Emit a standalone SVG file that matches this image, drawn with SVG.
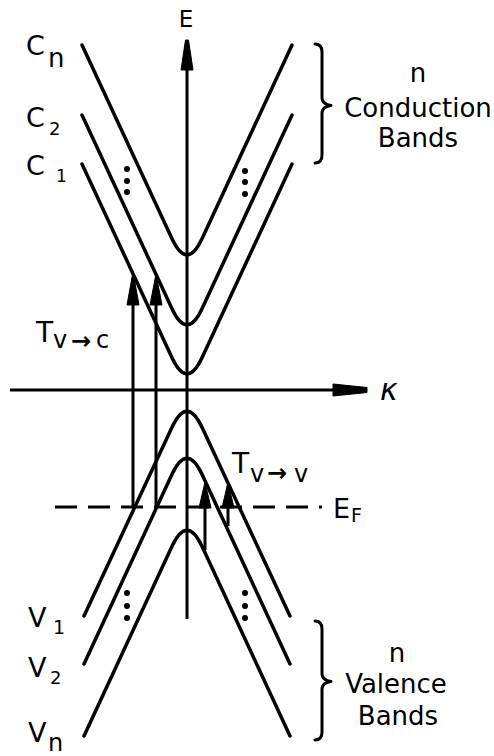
<svg xmlns="http://www.w3.org/2000/svg" width="494" height="756" viewBox="0 0 494 756">
<style>
.band{fill:none;stroke:#000;stroke-width:3.5;stroke-linecap:round;stroke-linejoin:round}
.axis{fill:none;stroke:#000;stroke-width:3}
.arr{fill:none;stroke:#000;stroke-width:3}
.head{fill:#000;stroke:#000;stroke-width:1;stroke-linejoin:round}
.brace{fill:none;stroke:#000;stroke-width:3;stroke-linecap:round;stroke-linejoin:round}
.dash{fill:none;stroke:#000;stroke-width:3;stroke-dasharray:22 11}
.dot{fill:#000}
text{font-family:"DejaVu Sans","Liberation Sans",sans-serif;fill:#000}
</style>
<rect width="494" height="756" fill="#fff"/>
<g id="axes">
<line class="axis" x1="187" y1="66" x2="187" y2="619"/>
<polygon class="head" points="185.5,40 188.5,40 193,70 181,70"/>
<text x="186" y="27" font-size="23" text-anchor="middle">E</text>
<line class="axis" x1="10" y1="390" x2="336" y2="390"/>
<polygon class="head" points="333,384 367,387.5 367,392.5 333,396"/>
<text x="380" y="400" font-size="30" font-style="italic">κ</text>
</g>
<g id="conduction-bands">
<path class="band" d="M82 45 L172 238.75 Q187 271 202 238.75 L292 45"/>
<path class="band" d="M82 115 L172 308.75 Q187 341 202 308.75 L292 115"/>
<path class="band" d="M82 164 L172 357.75 Q187 390 202 357.75 L292 164"/>
<circle class="dot" cx="127" cy="169" r="3"/>
<circle class="dot" cx="127" cy="181" r="3"/>
<circle class="dot" cx="127" cy="192" r="3"/>
<circle class="dot" cx="245" cy="171" r="3"/>
<circle class="dot" cx="245" cy="182" r="3"/>
<circle class="dot" cx="245" cy="194" r="3"/>
</g>
<g id="valence-bands">
<path class="band" d="M84 616 L172 427.25 Q187 395 202 427.25 L290 616"/>
<path class="band" d="M84 664 L172 474.25 Q187 442 202 474.25 L290 664"/>
<path class="band" d="M84 736 L172 546.25 Q187 514 202 546.25 L290 736"/>
<circle class="dot" cx="127" cy="593" r="3"/>
<circle class="dot" cx="127" cy="606" r="3"/>
<circle class="dot" cx="127" cy="618" r="3"/>
<circle class="dot" cx="245" cy="593" r="3"/>
<circle class="dot" cx="245" cy="606" r="3"/>
<circle class="dot" cx="245" cy="618" r="3"/>
</g>
<g id="fermi-level">
<line class="dash" x1="55" y1="507" x2="322" y2="507"/>
<text x="333" y="518" font-size="27">E</text>
<text x="351" y="522" font-size="19">F</text>
</g>
<g id="transitions">
<line class="arr" x1="133" y1="300" x2="133" y2="507"/>
<polygon class="head" points="133,272 139,305 127,305"/>
<line class="arr" x1="156" y1="300" x2="156" y2="507"/>
<polygon class="head" points="156,274 162,305 150,305"/>
<line class="arr" x1="205" y1="505" x2="205" y2="550"/>
<polygon class="head" points="205,482 211,508 199,508"/>
<line class="arr" x1="228" y1="505" x2="228" y2="526"/>
<polygon class="head" points="228,482 234,508 222,508"/>
</g>
<g id="labels">
<text x="26" y="55" font-size="27">C</text>
<text x="48" y="67" font-size="26">n</text>
<text x="26" y="127" font-size="27">C</text>
<text x="49" y="135" font-size="18">2</text>
<text x="26" y="175" font-size="27">C</text>
<text x="56" y="182" font-size="17">1</text>
<text x="28" y="627" font-size="27">V</text>
<text x="53" y="634" font-size="19">1</text>
<text x="28" y="677" font-size="27">V</text>
<text x="50" y="684" font-size="18">2</text>
<text x="28" y="742" font-size="27">V</text>
<text x="48" y="751" font-size="24">n</text>
<text font-size="28"><tspan x="36" y="342">T</tspan><tspan x="53" y="348" font-size="24">v</tspan><tspan x="71" y="349" font-size="24" font-weight="bold">→</tspan><tspan x="96" y="348" font-size="24">c</tspan></text>
<text font-size="28"><tspan x="232" y="473">T</tspan><tspan x="250" y="482" font-size="24">v</tspan><tspan x="267" y="481" font-size="24" font-weight="bold">→</tspan><tspan x="294" y="482" font-size="24">v</tspan></text>
</g>
<g id="conduction-brace">
<path class="brace" d="M315 44 Q322 44 322 52 L322 98 Q322 104 331 105.5 Q322 107 322 113 L322 155 Q322 163 315 163"/>
<text x="418" y="82" font-size="26" text-anchor="middle">n</text>
<text x="418" y="117" font-size="26" text-anchor="middle">Conduction</text>
<text x="418" y="147" font-size="26" text-anchor="middle">Bands</text>
</g>
<g id="valence-brace">
<path class="brace" d="M315 621 Q322 621 322 629 L322 674 Q322 680 331 681.5 Q322 683 322 689 L322 732 Q322 740 315 740"/>
<text x="397" y="662" font-size="26" text-anchor="middle">n</text>
<text x="396" y="693" font-size="26" text-anchor="middle">Valence</text>
<text x="398" y="725" font-size="26" text-anchor="middle">Bands</text>
</g>
</svg>
